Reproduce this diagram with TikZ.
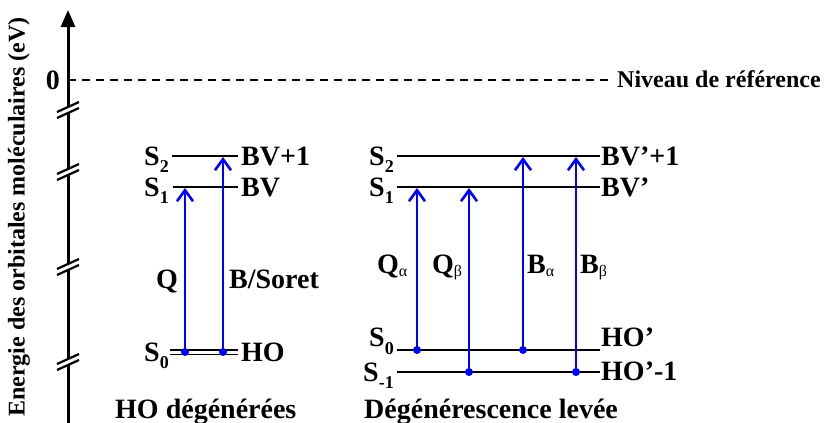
\documentclass[tikz,border=0pt]{standalone}
\usepackage{fontspec}
\setmainfont{Liberation Serif}
\usetikzlibrary{arrows.meta}
\newcommand\subs[1]{\raisebox{-0.28em}{\fontsize{18}{18}\selectfont #1}}
\newcommand\gsub[1]{\raisebox{-0.12em}{\fontsize{16}{16}\selectfont\mdseries #1}}
\begin{document}
\begin{tikzpicture}[x=1pt,y=-1pt,
  lab/.style={font=\fontsize{28}{32}\selectfont\bfseries, inner sep=0pt},
  smalllab/.style={font=\fontsize{24}{28}\selectfont\bfseries, inner sep=0pt},
  lvl/.style={line width=2.3pt, black},
  dbl/.style={double, double distance=3pt, line width=1.5pt, black},
  exc/.style={blue, line width=2.8pt, -{Straight Barb[length=11pt,width=16pt,line width=2.6pt]}},
  brk/.style={line width=2.2pt, black}]
\useasboundingbox (0,0) rectangle (825,423);

% axis
\coordinate (axb) at (68,423);
\coordinate (axt) at (68,10);
\draw[line width=3pt, -{Triangle[length=17pt,width=14pt]}] (axb) -- (axt);
\foreach \yb in {110,172,267,362}{
  \fill[white] (57,\yb-3+5) -- (79,\yb-3-5) -- (79,\yb+3-5) -- (57,\yb+3+5) -- cycle;
  \draw[brk] (57,\yb-3+5) -- (79,\yb-3-5);
  \draw[brk] (57,\yb+3+5) -- (79,\yb+3-5);
}
\node[smalllab, rotate=90] (axlab) at (19,217) {Energie des orbitales moléculaires (eV)};

% zero level
\coordinate (z0) at (68,80);
\coordinate (z1) at (609,80);
\draw[line width=2pt, dash pattern=on 8pt off 6pt] (z0) -- (z1);
\node[lab, anchor=east] (zero) at (60,80) {0};
\node[smalllab, anchor=base west] (niv) at (617,87) {Niveau de référence};

% left diagram levels
\coordinate (L2a) at (172,156); \coordinate (L2b) at (238,156);
\coordinate (L1a) at (173,187); \coordinate (L1b) at (238,187);
\coordinate (L0a) at (170,352); \coordinate (L0b) at (238,352);
\draw[lvl] (L2a) -- (L2b);
\draw[lvl] (L1a) -- (L1b);
\draw[dbl] (L0a) -- (L0b);
\node[lab, anchor=base east] (lS2) at (169,165) {S\subs{2}};
\node[lab, anchor=base east] (lS1) at (169,196) {S\subs{1}};
\node[lab, anchor=base east] (lS0) at (169,361) {S\subs{0}};
\node[lab, anchor=base west] (lBV1) at (241,165) {BV+1};
\node[lab, anchor=base west] (lBV) at (241,196) {BV};
\node[lab, anchor=base west] (lHO) at (241,361) {HO};

% left transitions
\coordinate (q0) at (185,352); \coordinate (q1) at (185,188);
\coordinate (b0) at (223,352); \coordinate (b1) at (223,157);
\draw[exc] (q0) -- (q1);
\draw[exc] (b0) -- (b1);
\fill[blue] (q0) circle (4pt);
\fill[blue] (b0) circle (4pt);
\node[lab, anchor=base west] (lQ) at (156,288) {Q};
\node[lab, anchor=base west] (lB) at (229,288) {B/Soret};

% right diagram levels
\coordinate (R2a) at (397,156); \coordinate (R2b) at (600,156);
\coordinate (R1a) at (397,187); \coordinate (R1b) at (600,187);
\coordinate (R0a) at (397,350); \coordinate (R0b) at (600,350);
\coordinate (Rma) at (397,372); \coordinate (Rmb) at (600,372);
\draw[lvl] (R2a) -- (R2b);
\draw[lvl] (R1a) -- (R1b);
\draw[lvl] (R0a) -- (R0b);
\draw[lvl] (Rma) -- (Rmb);
\node[lab, anchor=base east] (rS2) at (394,165) {S\subs{2}};
\node[lab, anchor=base east] (rS1) at (394,196) {S\subs{1}};
\node[lab, anchor=base east] (rS0) at (394,346.5) {S\subs{0}};
\node[lab, anchor=base east] (rSm) at (394,381) {S\subs{-1}};
\node[lab, anchor=base west] (rBV1) at (601,165) {BV’+1};
\node[lab, anchor=base west] (rBV) at (601,196) {BV’};
\node[lab, anchor=base west] (rHO) at (601,346.5) {HO’};
\node[lab, anchor=base west] (rHOm) at (601,380) {HO’-1};

% right transitions
\coordinate (qa0) at (417,350); \coordinate (qa1) at (417,188);
\coordinate (qb0) at (469,372); \coordinate (qb1) at (469,188);
\coordinate (ba0) at (523,350); \coordinate (ba1) at (523,157);
\coordinate (bb0) at (576,372); \coordinate (bb1) at (576,157);
\draw[exc] (qa0) -- (qa1);
\draw[exc] (qb0) -- (qb1);
\draw[exc] (ba0) -- (ba1);
\draw[exc] (bb0) -- (bb1);
\foreach \p in {qa0,qb0,ba0,bb0}{\fill[blue] (\p) circle (4pt);}
\node[lab, anchor=base west] (lQa) at (377,273) {Q\gsub{α}};
\node[lab, anchor=base west] (lQb) at (432,273) {Q\gsub{β}};
\node[lab, anchor=base west] (lBa) at (527,273) {B\gsub{α}};
\node[lab, anchor=base west] (lBb) at (580,273) {B\gsub{β}};

% captions
\node[lab, anchor=base west] (capL) at (115,418) {HO dégénérées};
\node[lab, anchor=base west] (capR) at (364,418) {Dégénérescence levée};
\end{tikzpicture}
\end{document}
